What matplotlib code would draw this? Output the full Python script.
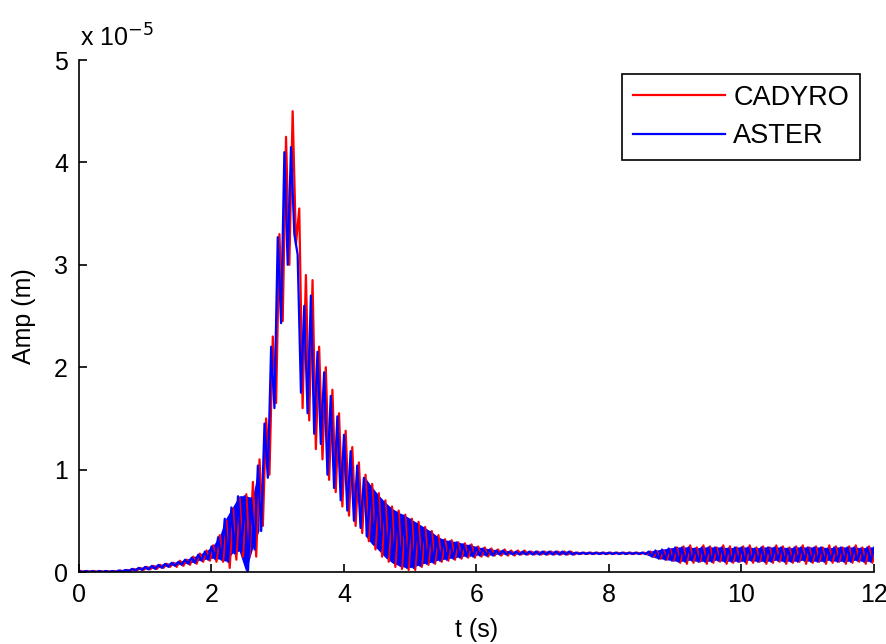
"""plot.py - CADYRO vs ASTER amplitude envelope over time (MATLAB-style figure)."""
import numpy as np
import matplotlib; matplotlib.use("Agg"); import matplotlib.pyplot as plt

plt.rcParams["font.family"] = ["Liberation Sans", "DejaVu Sans"]

t_knots = np.round(np.arange(0, 12.05, 0.1), 2)

aster_hi = [0.01, 0.01, 0.01, 0.01, 0.01, 0.01, 0.015, 0.02, 0.03, 0.04,      # 0.0
            0.05, 0.06, 0.07, 0.08, 0.09, 0.10, 0.12, 0.14, 0.17, 0.20,       # 1.0
            0.25, 0.34, 0.52, 0.63, 0.74, 0.74, 0.72, 1.04, 1.45, 2.20,       # 2.0
            3.27, 4.10, 4.15, 3.10, 2.60, 2.70, 2.15, 1.95, 1.72, 1.52,       # 3.0
            1.34, 1.18, 1.04, 0.92, 0.83, 0.75, 0.68, 0.62, 0.58, 0.55,       # 4.0
            0.51, 0.47, 0.43, 0.39, 0.34, 0.31, 0.30, 0.29, 0.27, 0.26,       # 5.0
            0.24, 0.23, 0.22, 0.21, 0.21, 0.20, 0.20, 0.20, 0.20, 0.20,       # 6.0
            0.20, 0.20, 0.20, 0.20, 0.20, 0.19, 0.19, 0.19, 0.19, 0.19,       # 7.0
            0.19, 0.19, 0.19, 0.19, 0.19, 0.19, 0.20, 0.21, 0.22, 0.23,       # 8.0
            0.24, 0.24, 0.24, 0.23, 0.24, 0.24, 0.24, 0.24, 0.23, 0.24,       # 9.0
            0.24, 0.24, 0.23, 0.24, 0.24, 0.24, 0.24, 0.23, 0.24, 0.24,       # 10.0
            0.24, 0.24, 0.24, 0.23, 0.24, 0.24, 0.24, 0.24, 0.23, 0.24,       # 11.0
            0.24]                                                             # 12.0
aster_lo = [0.0, 0.0, 0.0, 0.0, 0.0, 0.0, 0.005, 0.01, 0.015, 0.02,
            0.025, 0.03, 0.04, 0.05, 0.06, 0.07, 0.08, 0.09, 0.11, 0.12,
            0.13, 0.12, 0.10, 0.18, 0.20, 0.00, 0.22, 0.40, 0.92, 1.60,
            2.43, 3.00, 3.30, 1.75, 1.55, 1.35, 1.25, 0.95, 0.82, 0.70,
            0.60, 0.50, 0.43, 0.35, 0.27, 0.21, 0.14, 0.09, 0.06, 0.04,
            0.04, 0.06, 0.08, 0.09, 0.11, 0.12, 0.13, 0.14, 0.15, 0.15,
            0.16, 0.16, 0.16, 0.17, 0.17, 0.17, 0.17, 0.17, 0.17, 0.17,
            0.17, 0.17, 0.17, 0.17, 0.17, 0.175, 0.175, 0.175, 0.175, 0.175,
            0.175, 0.175, 0.175, 0.175, 0.175, 0.175, 0.15, 0.13, 0.12, 0.11,
            0.10, 0.10, 0.11, 0.10, 0.10, 0.10, 0.11, 0.10, 0.10, 0.10,
            0.10, 0.11, 0.10, 0.10, 0.10, 0.11, 0.10, 0.10, 0.10, 0.11,
            0.10, 0.10, 0.10, 0.11, 0.10, 0.10, 0.10, 0.11, 0.10, 0.10,
            0.10]
cadyro_hi = [0.01, 0.01, 0.01, 0.01, 0.01, 0.01, 0.015, 0.02, 0.03, 0.04,
             0.05, 0.06, 0.07, 0.08, 0.09, 0.11, 0.12, 0.15, 0.18, 0.21,
             0.26, 0.36, 0.50, 0.62, 0.72, 0.76, 0.88, 1.10, 1.50, 2.30,
             3.30, 4.25, 4.50, 3.55, 2.90, 2.85, 2.20, 2.00, 1.78, 1.55,
             1.38, 1.22, 1.07, 0.95, 0.86, 0.77, 0.70, 0.64, 0.60, 0.56,
             0.52, 0.49, 0.44, 0.40, 0.36, 0.32, 0.31, 0.29, 0.28, 0.27,
             0.25, 0.24, 0.23, 0.22, 0.22, 0.21, 0.21, 0.21, 0.20, 0.20,
             0.20, 0.20, 0.20, 0.20, 0.20, 0.19, 0.19, 0.19, 0.19, 0.19,
             0.19, 0.19, 0.19, 0.19, 0.19, 0.19, 0.20, 0.20, 0.21, 0.22,
             0.24, 0.25, 0.26, 0.24, 0.26, 0.25, 0.24, 0.26, 0.25, 0.24,
             0.25, 0.26, 0.24, 0.25, 0.24, 0.26, 0.25, 0.24, 0.25, 0.26,
             0.24, 0.25, 0.24, 0.26, 0.25, 0.24, 0.25, 0.26, 0.24, 0.25,
             0.25]
cadyro_lo = [0.0, 0.0, 0.0, 0.0, 0.0, 0.0, 0.005, 0.01, 0.015, 0.02,
             0.025, 0.03, 0.04, 0.05, 0.05, 0.06, 0.07, 0.08, 0.10, 0.11,
             0.10, 0.10, 0.04, 0.12, 0.15, 0.15, 0.15, 0.45, 0.95, 1.65,
             2.45, 3.00, 3.20, 1.60, 1.48, 1.20, 1.10, 0.90, 0.78, 0.64,
             0.55, 0.45, 0.38, 0.30, 0.22, 0.15, 0.10, 0.05, 0.03, 0.02,
             0.02, 0.05, 0.07, 0.08, 0.10, 0.11, 0.12, 0.13, 0.14, 0.14,
             0.15, 0.15, 0.16, 0.16, 0.16, 0.16, 0.17, 0.17, 0.17, 0.17,
             0.17, 0.17, 0.17, 0.17, 0.17, 0.175, 0.175, 0.175, 0.175, 0.175,
             0.175, 0.175, 0.175, 0.175, 0.175, 0.175, 0.15, 0.13, 0.12, 0.11,
             0.09, 0.08, 0.09, 0.10, 0.08, 0.09, 0.10, 0.08, 0.09, 0.10,
             0.08, 0.09, 0.10, 0.08, 0.09, 0.10, 0.08, 0.09, 0.10, 0.08,
             0.09, 0.10, 0.08, 0.09, 0.10, 0.08, 0.09, 0.10, 0.08, 0.09,
             0.09]

x_ticks = [0, 2, 4, 6, 8, 10, 12]
y_ticks = [0, 1, 2, 3, 4, 5]

RED, BLUE = (1, 0, 0), (0, 0, 1)


def zigzag(t, hi, lo, shift):
    # peak at t+shift, trough half a step later
    tt = np.column_stack([t + shift, t + shift + 0.05]).ravel()
    vv = np.column_stack([hi, lo]).ravel()
    return tt, vv


fig = plt.figure(figsize=(8.87, 6.44), dpi=100)
ax = fig.add_axes([79 / 887, 72 / 644, 795 / 887, 512 / 644])

tc, vc = zigzag(t_knots, cadyro_hi, cadyro_lo, 0.025)
ta, va = zigzag(t_knots, aster_hi, aster_lo, 0.0)
ax.plot(tc, vc, color=RED, lw=1.6, label="CADYRO")
# the fast oscillation renders as a solid band outside the main peak
solid = (t_knots < 2.8) | (t_knots > 4.2)
ax.fill_between(t_knots + 0.025, aster_lo, aster_hi, where=solid, color=BLUE, lw=0)
ax.plot(ta, va, color=BLUE, lw=1.6, label="ASTER")

ax.set_xlim(0, 12); ax.set_ylim(0, 5)
ax.set_xticks(x_ticks); ax.set_yticks(y_ticks)
ax.set_xticklabels([str(v) for v in x_ticks]); ax.set_yticklabels([str(v) for v in y_ticks])
for s in ("top", "right"):
    ax.spines[s].set_visible(False)
for s in ("left", "bottom"):
    ax.spines[s].set_linewidth(1.2)
ax.tick_params(direction="in", length=6, width=1.2, labelsize=18, pad=8)
ax.set_xlabel("t (s)", fontsize=18, labelpad=8)
ax.set_ylabel("Amp (m)", fontsize=18, labelpad=13)
fig.text(80 / 887, 1 - 47 / 644, r"x 10$^{-5}$", fontsize=18, va="baseline", ha="left")

leg = ax.legend(loc="upper right", fontsize=19.5, handlelength=3.4, handletextpad=0.3,
                labelspacing=0.45, borderpad=0.42, borderaxespad=0.5,
                fancybox=False, framealpha=1, edgecolor="black")
leg.get_frame().set_linewidth(1.2)

fig.savefig("out.png", dpi=100)
